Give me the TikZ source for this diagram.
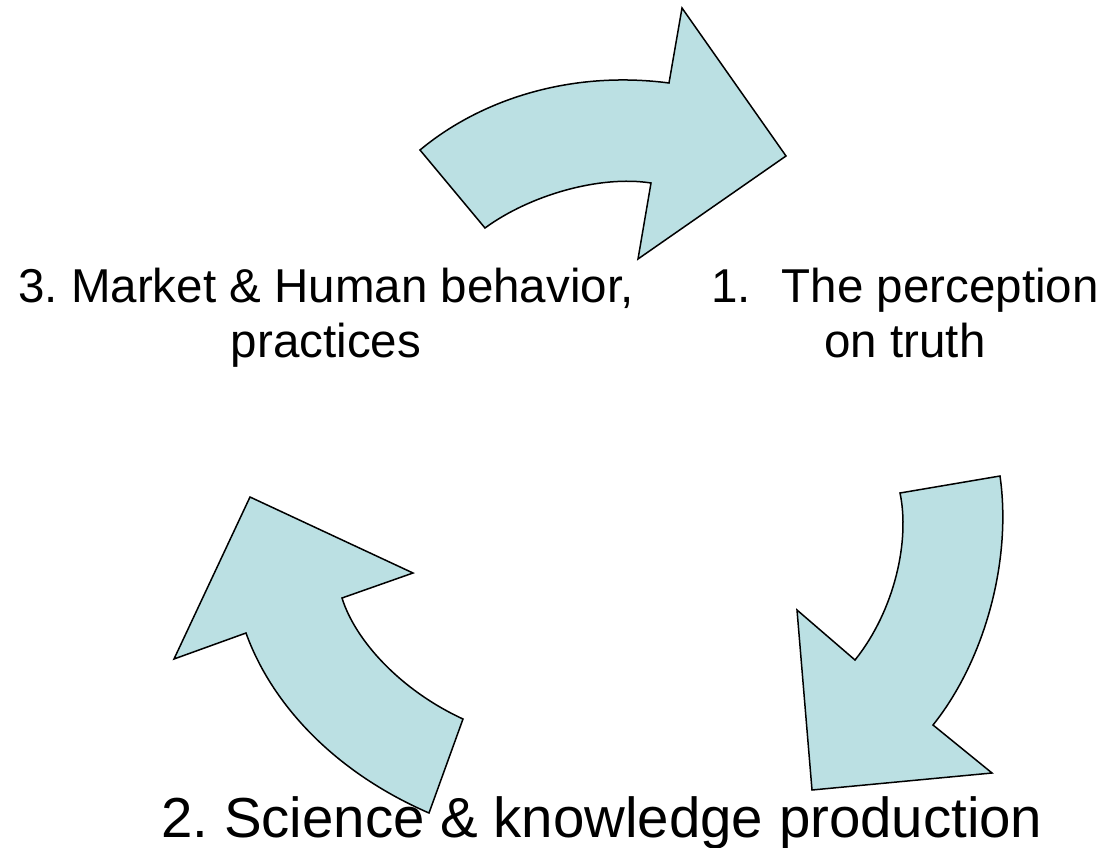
\documentclass[tikz,border=0pt]{standalone}
\usepackage{fontspec}
\setmainfont{Liberation Sans}
\usetikzlibrary{positioning}
\definecolor{arrowfill}{RGB}{187,224,227}
\frenchspacing
\tikzset{
  cyclearrow/.style={fill=arrowfill, draw=black, line width=1.5pt, line join=miter},
  steplabel/.style={align=center, inner sep=0pt, font=\fontsize{47.5}{55}\selectfont},
  mainlabel/.style={inner sep=0pt, font=\fontsize{56.4}{68}\selectfont}
}
\begin{document}
\begin{tikzpicture}[x=1pt, y=-1pt]
  \useasboundingbox (0,0) rectangle (1105,848);

  %Arrows
  \draw[cyclearrow] (420,150) .. controls (480,100) and (570,70) .. (669,83)
    -- (682,8) -- (786,156) -- (638,259) -- (651,183)
    .. controls (600,175) and (530,195) .. (485,228) -- cycle;
  \draw[cyclearrow] (900,493) -- (1000,476)
    .. controls (1012,560) and (985,660) .. (933,725)
    -- (992,773) -- (812,790) -- (797,610) -- (855,660)
    .. controls (895,610) and (910,540) .. cycle;
  \draw[cyclearrow] (429,813) .. controls (330,770) and (270,700) .. (246,633)
    -- (174,659) -- (250,497) -- (413,573) -- (342,598)
    .. controls (355,640) and (400,690) .. (463,719) -- cycle;

  %Labels
  \node[steplabel, anchor=base] (market) at (326,357) {3. Market \& Human behavior,\\ practices};
  \node[steplabel, anchor=base] (truth) at (905,357) {1.\hspace{31pt}The perception\\ on truth};
  \node[mainlabel, anchor=base] (science) at (602,837) {2. Science \& knowledge production};
\end{tikzpicture}
\end{document}
